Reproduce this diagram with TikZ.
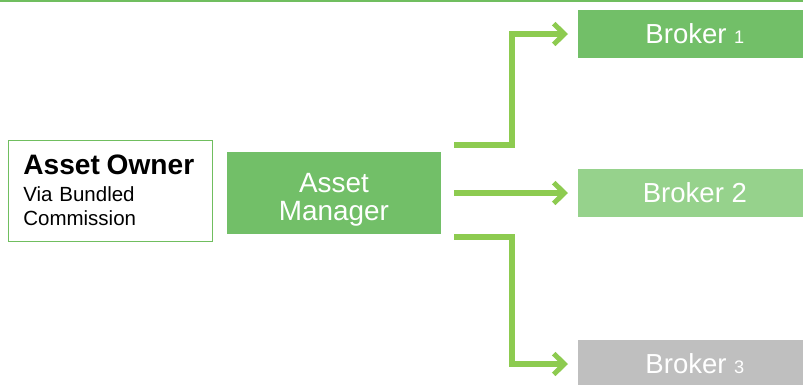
\documentclass[tikz,border=0pt]{standalone}
\usepackage{fontspec}
\setmainfont{Liberation Sans}
\usetikzlibrary{arrows.meta}
\usetikzlibrary{positioning}
\definecolor{boxgreen}{RGB}{114,191,104}
\definecolor{palegreen}{RGB}{150,210,140}
\definecolor{boxgray}{RGB}{191,191,191}
\definecolor{arrowgreen}{RGB}{141,203,80}
\definecolor{linegreen}{RGB}{112,190,95}
\newcommand{\brokernum}[1]{{\fontsize{15.5}{18}\selectfont#1}}
\tikzset{
  every picture/.style={>=stealth}}

\begin{document}
\begin{tikzpicture}[x=0.03cm, y=-0.03cm,
    owner/.style={draw=linegreen, line width=0.8pt, fill=white, minimum width=6.12cm,
      minimum height=3.03cm, text width=5.2cm, align=left, inner xsep=0.46cm,
      font=\fontsize{17.5}{20.5}\selectfont},
    manager/.style={fill=boxgreen, minimum width=6.42cm, minimum height=2.46cm},
    managertext/.style={text=white, align=center, yshift=-0.2cm,
      font=\fontsize{23.8}{23}\selectfont},
    broker/.style={minimum width=7cm, minimum height=1.44cm, inner sep=0pt, anchor=west,
      text=white, font=\fontsize{23.5}{26}\selectfont},
    flow/.style={draw=arrowgreen, line width=4.3pt, line join=miter,
      -{Straight Barb[length=3.2mm, width=6.2mm]}, shorten >=0.3cm,
      preaction={draw=black!18, transform canvas={shift={(0.8pt,-1pt)}}}}]

    \useasboundingbox (0,0) rectangle (803,384);
    \draw[linegreen, line width=1.6pt] (0,1) -- (803,1);

    \node[owner] (AO) at (110,190.5)
      {{\fontsize{24}{23}\selectfont\bfseries Asset Owner}\\[3pt]
       Via Bundled\\Commission};
    \node[manager] (AM) at (334,193)
      [label={[managertext]center:Asset\\[1pt]Manager}] {};

    \node[broker, fill=boxgreen] (B1) at (578,34) {Broker \brokernum{1}};
    \node[broker, fill=palegreen] (B2) at (578,193) {Broker 2};
    \node[broker, fill=boxgray] (B3) at (578,364) {Broker \brokernum{3}};

    \coordinate (S1) at (454,145);
    \coordinate (S2) at (454,193);
    \coordinate (S3) at (454,237);
    \coordinate (J) at (512,193);

    \draw[flow] (S1) -- (S1 -| J) |- (B1);
    \draw[flow] (S2) -- (B2);
    \draw[flow] (S3) -- (S3 -| J) |- (B3);
  \end{tikzpicture}
\end{document}
